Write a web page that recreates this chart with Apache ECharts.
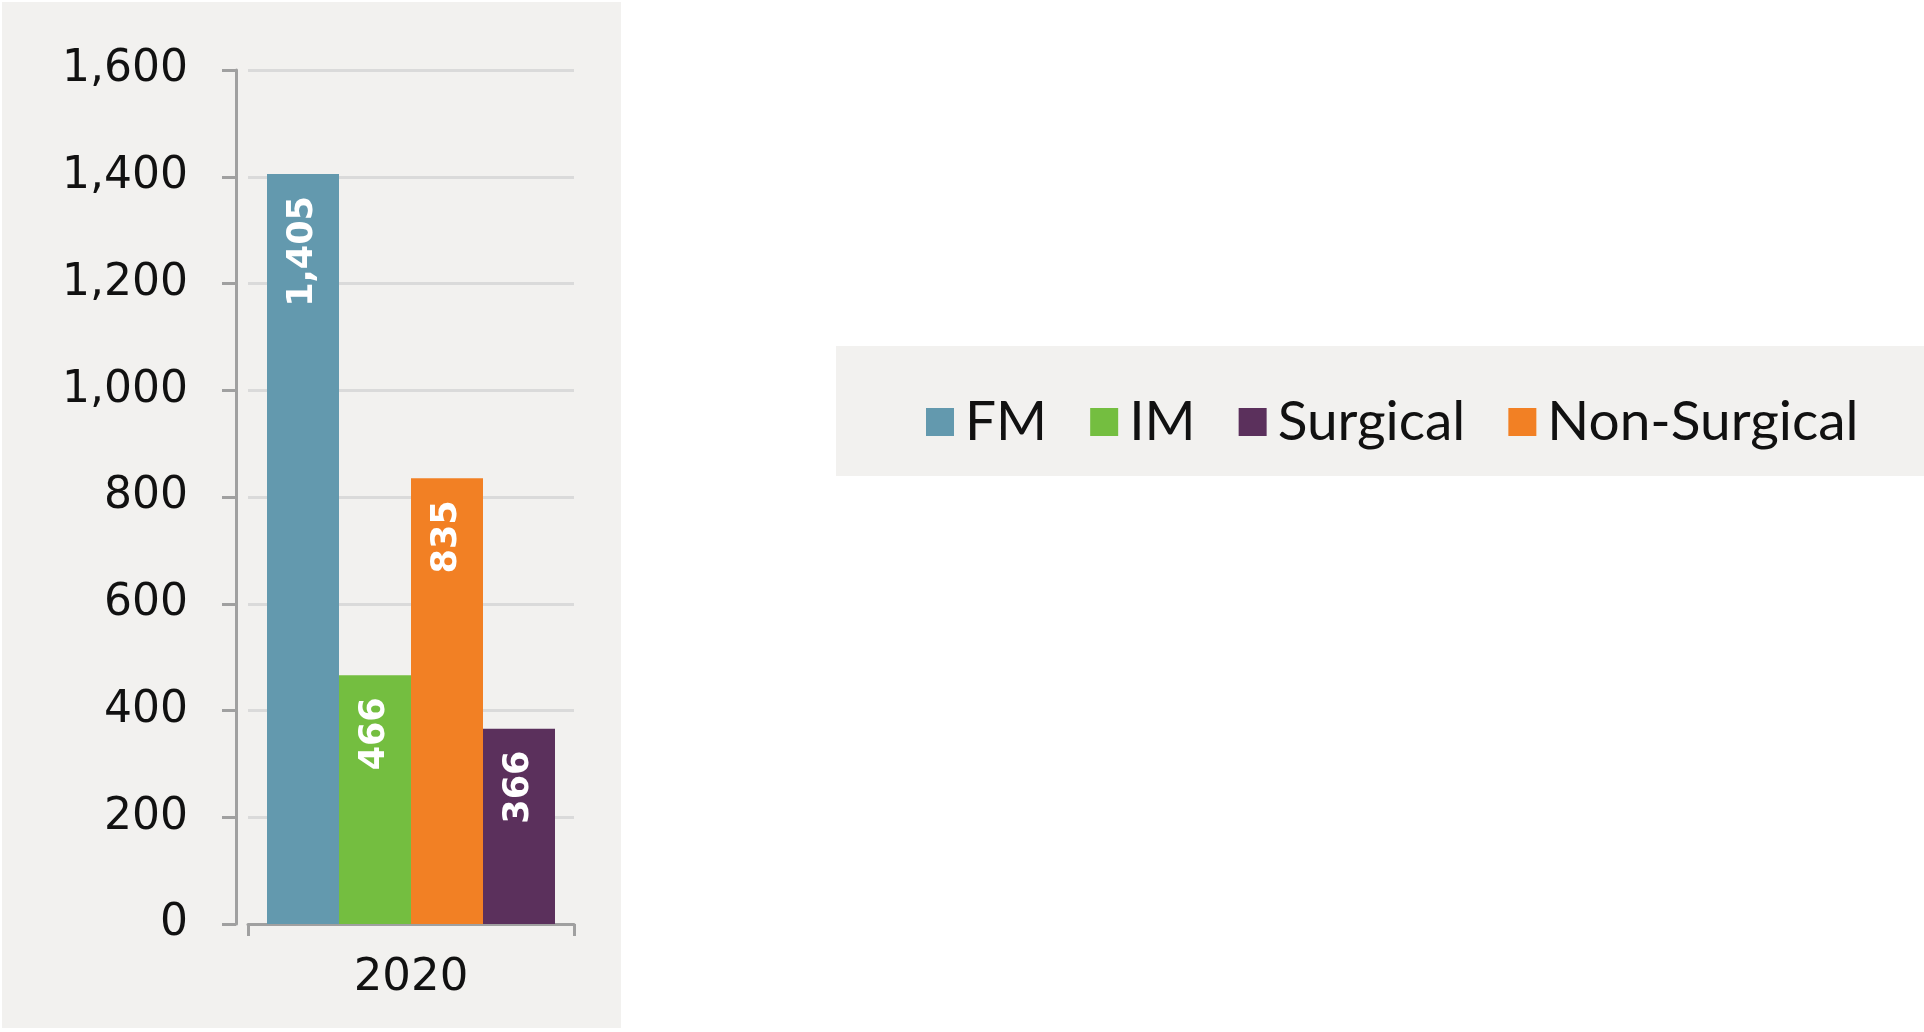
<!DOCTYPE html>
<html><head><meta charset="utf-8">
<script src="https://cdn.jsdelivr.net/npm/echarts@6/dist/echarts.min.js"></script>
<style>html,body{margin:0;padding:0;background:#fff}#c{width:1924px;height:1032px}</style>
</head><body><div id="c"></div>
<script>
const categories = ['2020'];
const seriesNames = ['FM', 'IM', 'Non-Surgical', 'Surgical'];
const legendOrder = ['FM', 'IM', 'Surgical', 'Non-Surgical'];
const fmValues = [1405];
const imValues = [466];
const nonSurgicalValues = [835];
const surgicalValues = [366];
const colors = { 'FM': '#6399AE', 'IM': '#74BE40', 'Non-Surgical': '#F28024', 'Surgical': '#5B305C' };
const valuesByName = { 'FM': fmValues, 'IM': imValues, 'Non-Surgical': nonSurgicalValues, 'Surgical': surgicalValues };

const chart = echarts.init(document.getElementById('c'));
const fmt = v => v.toLocaleString('en-US');
chart.setOption({
  backgroundColor: '#ffffff',
  animation: false,
  graphic: [
    { type: 'rect', z: -10, shape: { x: 2, y: 2, width: 619, height: 1026 }, style: { fill: '#F2F1EF' } },
    { type: 'rect', z: -10, shape: { x: 836, y: 346, width: 1088, height: 130 }, style: { fill: '#F2F1EF' } }
  ],
  grid: { left: 248, right: 1924 - 574, top: 70, bottom: 1032 - 924, containLabel: false },
  legend: {
    data: legendOrder,
    left: 921, top: 389,
    itemWidth: 28, itemHeight: 28, itemGap: 43,
    icon: 'rect',
    textStyle: { fontFamily: 'Lato', fontSize: 55, color: '#111', padding: [0, 0, 0, 6], lineHeight: 56 }
  },
  xAxis: {
    type: 'category', data: categories,
    axisLine: { lineStyle: { color: '#A0A0A0', width: 3 } },
    axisTick: { show: true, length: 12, lineStyle: { color: '#A0A0A0', width: 3 } },
    axisLabel: { fontFamily: 'DejaVu Sans', fontSize: 45, color: '#111', margin: 32 }
  },
  yAxis: {
    type: 'value', min: 0, max: 1600, interval: 200, offset: 12,
    axisLine: { show: true, lineStyle: { color: '#A0A0A0', width: 3 } },
    axisTick: { show: true, length: 14, lineStyle: { color: '#A0A0A0', width: 3 } },
    splitLine: { lineStyle: { color: '#DADADA', width: 3 } },
    axisLabel: { fontFamily: 'DejaVu Sans', fontSize: 44, color: '#111', margin: 48, formatter: fmt }
  },
  series: seriesNames.map(n => ({
    name: n, type: 'bar', data: valuesByName[n],
    barWidth: 72, barGap: '0%',
    itemStyle: { color: colors[n] },
    label: {
      show: true, position: 'insideTop', rotate: 90, align: 'right', verticalAlign: 'middle',
      distance: 22, color: '#ffffff', fontFamily: 'DejaVu Sans', fontSize: 35, fontWeight: 'bold',
      formatter: p => fmt(p.value)
    }
  }))
});
</script></body></html>
